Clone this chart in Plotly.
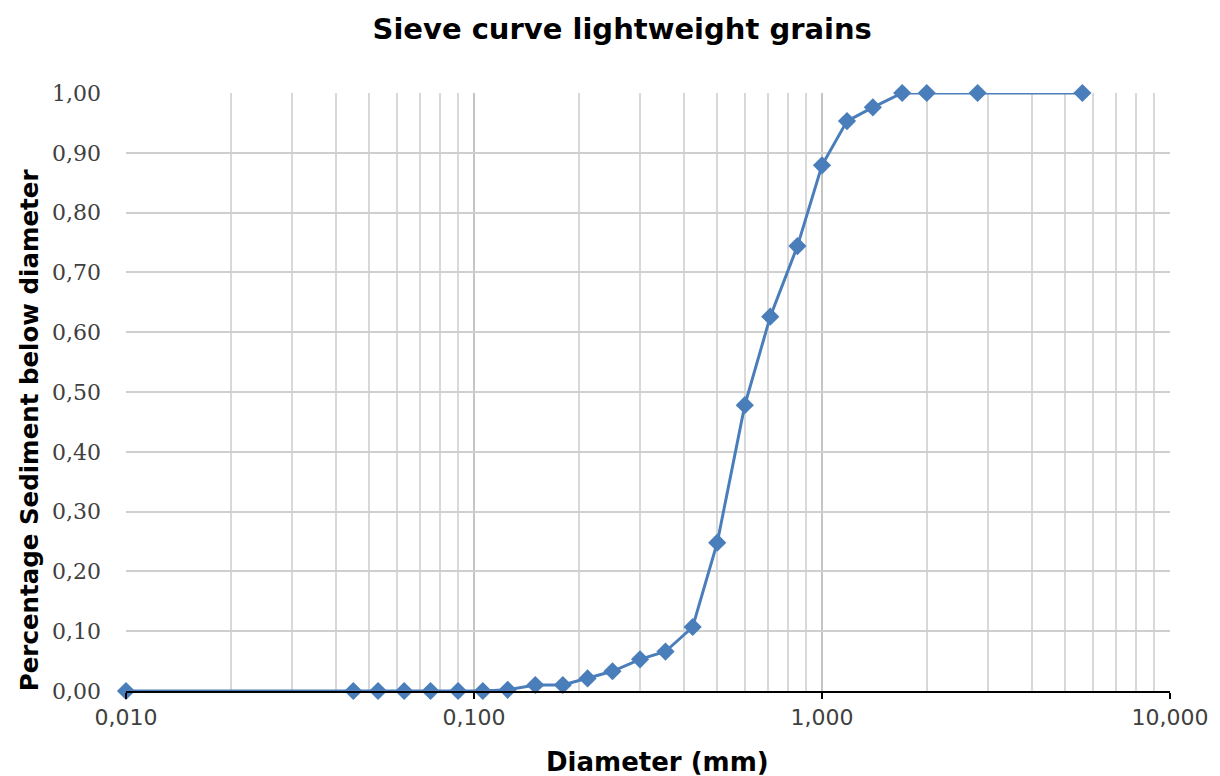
import plotly.graph_objects as go

diameter_mm = [0.010, 0.045, 0.053, 0.063, 0.075, 0.090, 0.106, 0.125, 0.150, 0.180,
               0.212, 0.250, 0.300, 0.355, 0.425, 0.500, 0.600, 0.710, 0.850, 1.000,
               1.180, 1.400, 1.700, 2.000, 2.800, 5.600]
fraction_below = [0.000, 0.000, 0.000, 0.000, 0.000, 0.000, 0.000, 0.002, 0.010, 0.010,
                  0.021, 0.033, 0.053, 0.066, 0.107, 0.248, 0.478, 0.626, 0.744, 0.879,
                  0.953, 0.976, 1.000, 1.000, 1.000, 1.000]

x_tickvals = [0.01, 0.1, 1, 10]
x_ticktext = ["0,010", "0,100", "1,000", "10,000"]
y_tickvals = [0.0, 0.1, 0.2, 0.3, 0.4, 0.5, 0.6, 0.7, 0.8, 0.9, 1.0]
y_ticktext = ["0,00", "0,10", "0,20", "0,30", "0,40", "0,50", "0,60", "0,70", "0,80", "0,90", "1,00"]

blue = "#4A7EBB"

fig = go.Figure()
fig.add_trace(go.Scatter(
    x=diameter_mm, y=fraction_below, mode="lines+markers",
    line=dict(color=blue, width=3),
    marker=dict(symbol="diamond", size=14, color=blue),
    showlegend=False, cliponaxis=False,
))

fig.update_layout(
    width=1220, height=776,
    margin=dict(l=126, r=47, t=93, b=85),
    paper_bgcolor="white", plot_bgcolor="white",
    title=dict(text="<b>Sieve curve lightweight grains</b>", x=0.51, xanchor="center",
               y=0.963, yanchor="middle",
               font=dict(family="DejaVu Sans", size=29, color="#000000")),
    xaxis=dict(
        type="log", range=[-2, 1],
        tickvals=x_tickvals, ticktext=x_ticktext,
        tickfont=dict(family="DejaVu Sans", size=22, color="#404040"),
        showgrid=True, gridcolor="#C4C4C4", gridwidth=1.5,
        minor=dict(dtick="D1", showgrid=True, gridcolor="#D8D8D8", gridwidth=1.5, ticks=""),
        showline=True, linecolor="#000000", linewidth=2,
        ticks="outside", ticklen=6, tickcolor="#000000", tickwidth=2,
        mirror=False, zeroline=False,
    ),
    yaxis=dict(
        range=[0, 1.0], tickvals=y_tickvals, ticktext=y_ticktext,
        tickfont=dict(family="DejaVu Serif", size=22, color="#404040"),
        showgrid=True, gridcolor="#CFCFCF", gridwidth=1.5,
        showline=False, zeroline=False, ticks="", ticklabelstandoff=24,
    ),
    annotations=[
        dict(text="<b>Diameter (mm)</b>", xref="paper", yref="paper",
             x=0.509, y=-0.119, xanchor="center", yanchor="middle", showarrow=False,
             font=dict(family="DejaVu Sans", size=26, color="#000000")),
        dict(text="<b>Percentage Sediment below diameter</b>", xref="paper", yref="paper",
             x=-0.0917, y=0.4365, xanchor="center", yanchor="middle", showarrow=False,
             textangle=-90,
             font=dict(family="DejaVu Sans", size=24.5, color="#000000")),
    ],
)

fig.write_html("out.html")
